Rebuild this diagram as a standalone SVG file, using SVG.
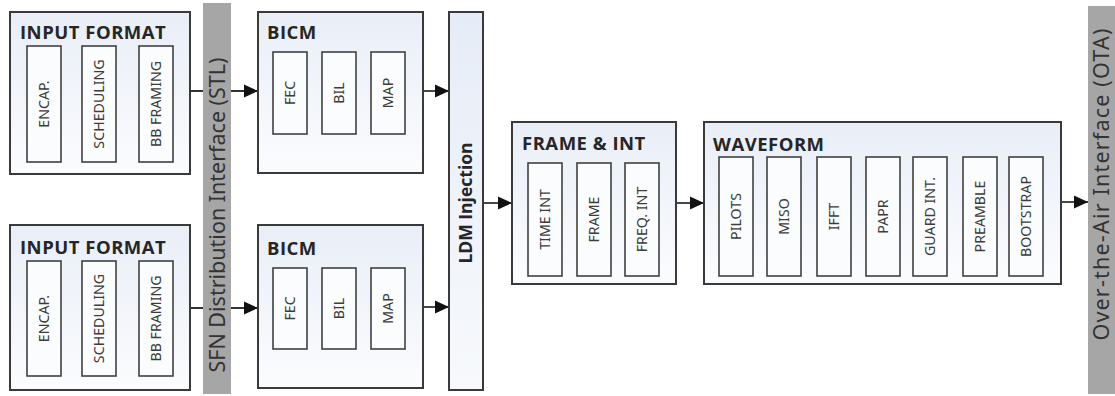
<svg xmlns="http://www.w3.org/2000/svg" width="1115" height="396" viewBox="0 0 1115 396">
<defs>
<linearGradient id="boxfill" x1="0" y1="0" x2="0" y2="1">
<stop offset="0" stop-color="#e9eef7"/>
<stop offset="1" stop-color="#fbfcfe"/>
</linearGradient>
<linearGradient id="ldmfill" x1="0" y1="0" x2="0" y2="1">
<stop offset="0" stop-color="#e6ecf7"/>
<stop offset="1" stop-color="#f7f9fc"/>
</linearGradient>
<marker id="arr" markerUnits="userSpaceOnUse" markerWidth="14" markerHeight="14" viewBox="0 0 13 13" refX="13" refY="6.5" orient="auto">
<path d="M0,0.5 L13,6.5 L0,12.5 z" fill="#111"/>
</marker>
<style>
.outer{fill:url(#boxfill);stroke:#3a3a3a;stroke-width:2}
.inner{fill:#fbfcfd;stroke:#404040;stroke-width:1.6}
.bar{fill:#a6a6a6}
.title{font-family:"Open Sans","Noto Sans",sans-serif;font-weight:bold;font-size:18.5px;letter-spacing:0.5px;fill:#262626}
.lbl{font-family:"Noto Sans","Open Sans",sans-serif;font-size:14.2px;fill:#3c3c3c;text-anchor:middle}
.bartxt{font-family:"Noto Sans","Open Sans",sans-serif;font-size:21.5px;fill:#333;text-anchor:middle}
.ldmtxt{font-family:"Open Sans","Noto Sans",sans-serif;font-weight:bold;font-size:17.5px;fill:#262626;text-anchor:middle}
.conn{stroke:#333;stroke-width:1.8;fill:none;marker-end:url(#arr)}
</style>
</defs>
<rect width="1115" height="396" fill="#ffffff"/>

<g id="connectors">
<line class="conn" x1="190" y1="91" x2="258" y2="91"/>
<line class="conn" x1="190" y1="308" x2="258" y2="308"/>
<line class="conn" x1="423" y1="91" x2="449" y2="91"/>
<line class="conn" x1="423" y1="307" x2="449" y2="307"/>
<line class="conn" x1="483" y1="203" x2="512" y2="203"/>
<line class="conn" x1="676" y1="203" x2="704" y2="203"/>
<line class="conn" x1="1061" y1="202" x2="1088" y2="202"/>
</g>

<g id="stl-bar">
<rect class="bar" x="203" y="3" width="28" height="391"/>
<text class="bartxt" transform="translate(217,215) rotate(-90)" dy="0.36em">SFN Distribution Interface (STL)</text>
</g>

<g id="ota-bar">
<rect class="bar" x="1088" y="6" width="27" height="388"/>
<text class="bartxt" transform="translate(1101,184) rotate(-90)" dy="0.36em" letter-spacing="1.2">Over-the-Air Interface (OTA)</text>
</g>

<g id="input-format-1">
<rect class="outer" x="10" y="12" width="180" height="162"/>
<text class="title" x="20" y="39">INPUT FORMAT</text>
<rect class="inner" x="27" y="46" width="34" height="116"/>
<rect class="inner" x="82" y="46" width="34" height="116"/>
<rect class="inner" x="139" y="46" width="34" height="116"/>
<text class="lbl" transform="translate(44,104) rotate(-90)" dy="0.36em">ENCAP.</text>
<text class="lbl" transform="translate(99,104) rotate(-90)" dy="0.36em">SCHEDULING</text>
<text class="lbl" transform="translate(156,104) rotate(-90)" dy="0.36em">BB FRAMING</text>
</g>

<g id="input-format-2">
<rect class="outer" x="10" y="225" width="180" height="165"/>
<text class="title" x="20" y="254">INPUT FORMAT</text>
<rect class="inner" x="27" y="261" width="34" height="115"/>
<rect class="inner" x="82" y="261" width="34" height="115"/>
<rect class="inner" x="139" y="261" width="34" height="115"/>
<text class="lbl" transform="translate(44,318.5) rotate(-90)" dy="0.36em">ENCAP.</text>
<text class="lbl" transform="translate(99,318.5) rotate(-90)" dy="0.36em">SCHEDULING</text>
<text class="lbl" transform="translate(156,318.5) rotate(-90)" dy="0.36em">BB FRAMING</text>
</g>

<g id="bicm-1">
<rect class="outer" x="258" y="12" width="165" height="161"/>
<text class="title" x="267" y="39">BICM</text>
<rect class="inner" x="273" y="52" width="34" height="82"/>
<rect class="inner" x="322" y="52" width="34" height="82"/>
<rect class="inner" x="371" y="52" width="34" height="82"/>
<text class="lbl" transform="translate(290,93) rotate(-90)" dy="0.36em">FEC</text>
<text class="lbl" transform="translate(339,93) rotate(-90)" dy="0.36em">BIL</text>
<text class="lbl" transform="translate(388,93) rotate(-90)" dy="0.36em">MAP</text>
</g>

<g id="bicm-2">
<rect class="outer" x="258" y="225" width="165" height="163"/>
<text class="title" x="267" y="255">BICM</text>
<rect class="inner" x="273" y="268" width="34" height="81"/>
<rect class="inner" x="322" y="268" width="34" height="81"/>
<rect class="inner" x="371" y="268" width="34" height="81"/>
<text class="lbl" transform="translate(290,308.5) rotate(-90)" dy="0.36em">FEC</text>
<text class="lbl" transform="translate(339,308.5) rotate(-90)" dy="0.36em">BIL</text>
<text class="lbl" transform="translate(388,308.5) rotate(-90)" dy="0.36em">MAP</text>
</g>

<g id="ldm-injection">
<rect x="449" y="12" width="34" height="378" fill="url(#ldmfill)" stroke="#3a3a3a" stroke-width="2"/>
<text class="ldmtxt" transform="translate(466,203) rotate(-90)" dy="0.36em">LDM Injection</text>
</g>

<g id="frame-int">
<rect class="outer" x="512" y="122" width="164" height="162"/>
<text class="title" x="522" y="150">FRAME &amp; INT</text>
<rect class="inner" x="528" y="163" width="34" height="113"/>
<rect class="inner" x="577" y="163" width="34" height="113"/>
<rect class="inner" x="625" y="163" width="34" height="113"/>
<text class="lbl" transform="translate(545,219.5) rotate(-90)" dy="0.36em">TIME INT</text>
<text class="lbl" transform="translate(594,219.5) rotate(-90)" dy="0.36em">FRAME</text>
<text class="lbl" transform="translate(642,219.5) rotate(-90)" dy="0.36em">FREQ. INT</text>
</g>

<g id="waveform">
<rect class="outer" x="704" y="122" width="357" height="162"/>
<text class="title" x="713" y="151">WAVEFORM</text>
<rect class="inner" x="719" y="157" width="34" height="119"/>
<rect class="inner" x="767" y="157" width="34" height="119"/>
<rect class="inner" x="817" y="157" width="34" height="119"/>
<rect class="inner" x="866" y="157" width="34" height="119"/>
<rect class="inner" x="913" y="157" width="34" height="119"/>
<rect class="inner" x="963" y="157" width="34" height="119"/>
<rect class="inner" x="1009" y="157" width="34" height="119"/>
<text class="lbl" transform="translate(736,216.5) rotate(-90)" dy="0.36em">PILOTS</text>
<text class="lbl" transform="translate(784,216.5) rotate(-90)" dy="0.36em">MISO</text>
<text class="lbl" transform="translate(834,216.5) rotate(-90)" dy="0.36em">IFFT</text>
<text class="lbl" transform="translate(883,216.5) rotate(-90)" dy="0.36em">PAPR</text>
<text class="lbl" transform="translate(930,216.5) rotate(-90)" dy="0.36em">GUARD INT.</text>
<text class="lbl" transform="translate(980,216.5) rotate(-90)" dy="0.36em">PREAMBLE</text>
<text class="lbl" transform="translate(1026,216.5) rotate(-90)" dy="0.36em">BOOTSTRAP</text>
</g>
</svg>
